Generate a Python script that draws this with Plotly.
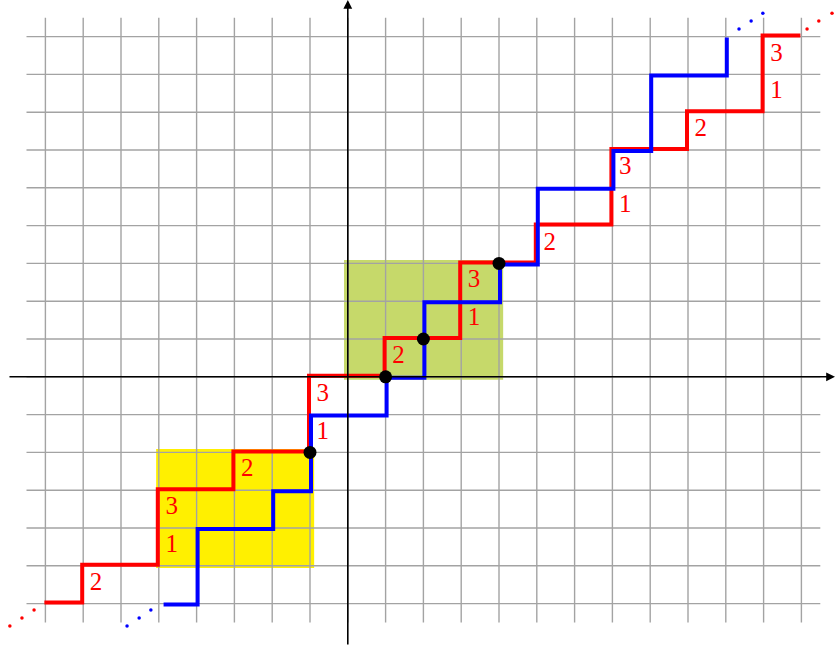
import plotly.graph_objects as go

# ---------------- data ----------------
red_x = [-8, -7, -7, -5, -5, -3, -3, -1, -1, 1, 1, 3, 3, 5, 5, 7, 7, 9, 9, 11, 11, 12]
red_y = [-6, -6, -5, -5, -3, -3, -2, -2, 0, 0, 1, 1, 3, 3, 4, 4, 6, 6, 7, 7, 9, 9]

blue_x = [-4.9, -4, -4, -2, -2, -1, -1, 1, 1, 2, 2, 4, 4, 5, 5, 7, 7, 8, 8, 10, 10]
blue_y = [-6, -6, -4, -4, -3, -3, -1, -1, 0, 0, 2, 2, 3, 3, 5, 5, 6, 6, 8, 8, 9]

red_dots_x = [-8.30, -8.62, -8.94, 12.15, 12.46, 12.81]
red_dots_y = [-6.17, -6.38, -6.59, 9.20, 9.41, 9.62]
blue_dots_x = [-5.21, -5.52, -5.84, 10.35, 10.67, 10.98]
blue_dots_y = [-6.17, -6.38, -6.59, 9.20, 9.41, 9.62]

point_x = [-1, 1, 2, 4]
point_y = [-2, 0, 1, 3]

label_x = [-7, -5, -5, -3, -1, -1, 1, 3, 3, 5, 7, 7, 9, 11, 11]
label_y = [-5.5, -4.5, -3.5, -2.5, -1.5, -0.5, 0.5, 1.5, 2.5, 3.5, 4.5, 5.5, 6.5, 7.5, 8.5]
label_text = ["2", "1", "3", "2", "1", "3", "2", "1", "3", "2", "1", "3", "2", "1", "3"]

grid_x_ticks = list(range(-8, 13))
grid_y_ticks = list(range(-6, 10))

yellow_box = [-5.07, -5.06, -0.89, -1.91]   # x0, y0, x1, y1
olive_box = [-0.10, -0.08, 4.11, 3.09]

# ---------------- layout constants ----------------
SCALE = 37.8
W, H = 835, 646
OX, OY = 347.8, 376.8
xr = [-OX / SCALE, (W - OX) / SCALE]
yr = [(OY - H) / SCALE, OY / SCALE]
off = 1.0 / SCALE
grid_pad = 0.5

fig = go.Figure()

# grid
gx, gy = [], []
for t in grid_x_ticks:
    gx += [t, t, None]
    gy += [grid_y_ticks[0] - grid_pad, grid_y_ticks[-1] + grid_pad, None]
for t in grid_y_ticks:
    gx += [grid_x_ticks[0] - grid_pad, grid_x_ticks[-1] + grid_pad, None]
    gy += [t, t, None]
fig.add_trace(go.Scatter(x=gx, y=gy, mode="lines",
                         line=dict(color="#a3a3a3", width=1.4),
                         hoverinfo="skip", showlegend=False))

# axes lines (arrows via annotations)
fig.add_annotation(x=xr[1], y=0, ax=-8.99, ay=0, xref="x", yref="y",
                   axref="x", ayref="y", text="", showarrow=True,
                   arrowhead=2, arrowsize=1.1, arrowwidth=1.6, arrowcolor="black",
                   standoff=0, startstandoff=0)
fig.add_annotation(x=0, y=yr[1], ax=0, ay=yr[0], xref="x", yref="y",
                   axref="x", ayref="y", text="", showarrow=True,
                   arrowhead=2, arrowsize=1.1, arrowwidth=1.6, arrowcolor="black",
                   standoff=0, startstandoff=0)

# rectangles
fig.add_shape(type="rect", x0=yellow_box[0], y0=yellow_box[1], x1=yellow_box[2], y1=yellow_box[3],
              fillcolor="#fff000", line=dict(width=0), layer="below")
fig.add_shape(type="rect", x0=olive_box[0], y0=olive_box[1], x1=olive_box[2], y1=olive_box[3],
              fillcolor="#c6d96a", line=dict(width=0), layer="below")

# staircases
fig.add_trace(go.Scatter(x=[v - off for v in red_x], y=[v + off for v in red_y], mode="lines",
                         line=dict(color="#ff0000", width=4),
                         hoverinfo="skip", showlegend=False))
fig.add_trace(go.Scatter(x=[v + off for v in blue_x], y=[v - off for v in blue_y], mode="lines",
                         line=dict(color="#0000ff", width=4),
                         hoverinfo="skip", showlegend=False))

# dotted continuations
fig.add_trace(go.Scatter(x=red_dots_x, y=red_dots_y, mode="markers",
                         marker=dict(color="#ff0000", size=3.5),
                         hoverinfo="skip", showlegend=False))
fig.add_trace(go.Scatter(x=blue_dots_x, y=blue_dots_y, mode="markers",
                         marker=dict(color="#0000ff", size=3.5),
                         hoverinfo="skip", showlegend=False))

# black points
fig.add_trace(go.Scatter(x=point_x, y=point_y, mode="markers",
                         marker=dict(color="black", size=13),
                         hoverinfo="skip", showlegend=False))

# labels
fig.add_trace(go.Scatter(x=[v + 0.34 for v in label_x], y=[v + 0.03 for v in label_y],
                         mode="text", text=label_text,
                         textfont=dict(family="Liberation Serif", size=25, color="#ff0000"),
                         textposition="middle center",
                         hoverinfo="skip", showlegend=False))

fig.update_xaxes(range=xr, visible=False, showgrid=False, zeroline=False, fixedrange=True)
fig.update_yaxes(range=yr, visible=False, showgrid=False, zeroline=False, fixedrange=True)
fig.update_layout(width=W, height=H, margin=dict(l=0, r=0, t=0, b=0),
                  plot_bgcolor="white", paper_bgcolor="white")

fig.write_html("out.html",
               post_script="document.body.style.margin='0';document.body.style.overflow='hidden';",
               config={"displayModeBar": False, "staticPlot": True})
